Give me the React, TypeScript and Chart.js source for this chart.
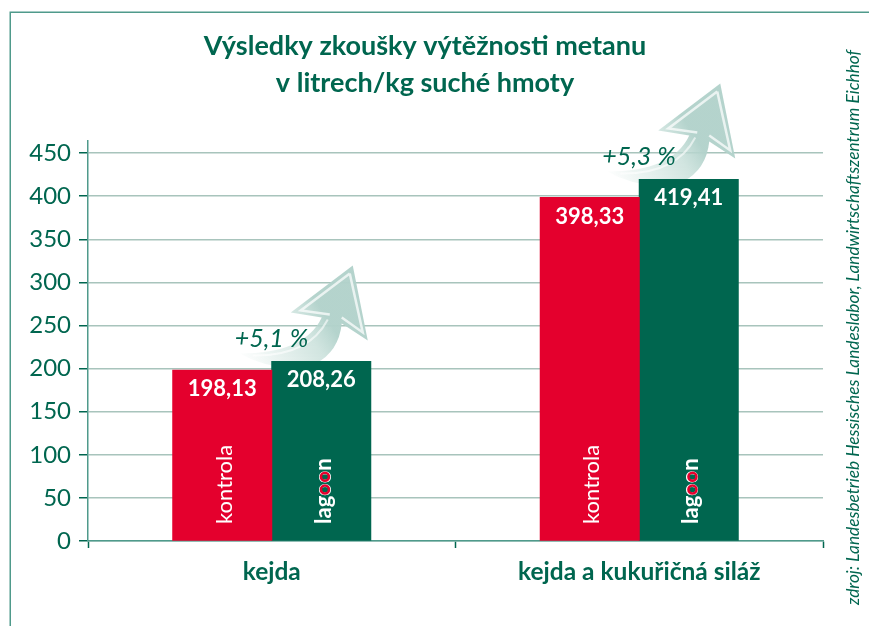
import React, { useEffect, useRef } from "react";
import { Chart, registerables } from "chart.js";

Chart.register(...registerables);

const categories = ["kejda", "kejda a kukuřičná siláž"];
const kontrola = [198.13, 398.33];
const lagoon = [208.26, 419.41];
const gains = ["+5,1 %", "+5,3 %"];
const yTicks = [0, 50, 100, 150, 200, 250, 300, 350, 400, 450];
const titleLines = ["Výsledky zkoušky výtěžnosti metanu", "v litrech/kg suché hmoty"];
const source = "zdroj: Landesbetrieb Hessisches Landeslabor, Landwirtschaftszentrum Eichhof";

const FONT = "Lato, Carlito, sans-serif";
const GREEN = "#00664f";
const RED = "#e4002d";
const FRAME = "#4f9a8b";

function fmt(v: number) {
  return v.toFixed(2).replace(".", ",");
}

function arrowPath(ctx: CanvasRenderingContext2D, x: number, y: number) {
  ctx.beginPath();
  ctx.moveTo(x - 18, y - 96);
  ctx.lineTo(x - 80, y - 49);
  ctx.lineTo(x - 49, y - 44);
  ctx.quadraticCurveTo(x - 66, y - 8, x - 131, y - 8);
  ctx.quadraticCurveTo(x - 96, y + 12, x - 55, y + 2);
  ctx.quadraticCurveTo(x - 32, y - 10, x - 29, y - 38);
  ctx.lineTo(x - 3, y - 21);
  ctx.closePath();
}

function drawArrow(ctx: CanvasRenderingContext2D, x: number, y: number) {
  ctx.save();
  const g = ctx.createLinearGradient(x - 125, y + 6, x - 45, y - 45);
  g.addColorStop(0, "rgba(190,218,211,0)");
  g.addColorStop(0.35, "rgba(190,218,211,0.35)");
  g.addColorStop(0.75, "rgba(190,218,211,0.7)");
  g.addColorStop(1, "rgba(178,210,203,0.97)");
  arrowPath(ctx, x, y);
  ctx.fillStyle = g;
  ctx.fill();
  ctx.beginPath();
  ctx.moveTo(x - 21, y - 88);
  ctx.lineTo(x - 70, y - 51);
  ctx.lineTo(x - 41, y - 47);
  ctx.moveTo(x - 21, y - 88);
  ctx.lineTo(x - 8, y - 29);
  ctx.lineTo(x - 29, y - 44);
  ctx.strokeStyle = "rgba(255,255,255,0.72)";
  ctx.lineWidth = 2.5;
  ctx.stroke();
  ctx.beginPath();
  ctx.moveTo(x - 43, y - 42);
  ctx.quadraticCurveTo(x - 62, y - 5, x - 118, y - 6);
  ctx.strokeStyle = "rgba(255,255,255,0.6)";
  ctx.lineWidth = 2;
  ctx.stroke();
  ctx.restore();
}

function rotatedText(
  ctx: CanvasRenderingContext2D,
  text: string,
  x: number,
  y: number,
  font: string,
  color: string,
) {
  ctx.save();
  ctx.translate(x, y);
  ctx.rotate(-Math.PI / 2);
  ctx.font = font;
  ctx.fillStyle = color;
  ctx.textAlign = "left";
  ctx.textBaseline = "alphabetic";
  ctx.fillText(text, 0, 0);
  ctx.restore();
}

function drawLagoon(ctx: CanvasRenderingContext2D, x: number, y: number) {
  const font = `bold 22px ${FONT}`;
  ctx.save();
  ctx.font = font;
  rotatedText(ctx, "lagoon", x, y, font, "#ffffff");
  ctx.font = font;
  const start = ctx.measureText("lag").width;
  const ow = ctx.measureText("o").width;
  ctx.strokeStyle = RED;
  ctx.lineWidth = 2.6;
  for (let i = 0; i < 2; i++) {
    ctx.beginPath();
    ctx.arc(x - 5.8, y - start - ow * (i + 0.5), 4, 0, Math.PI * 2);
    ctx.stroke();
  }
  ctx.restore();
}

const framePlugin = {
  id: "frame",
  beforeDraw(chart: any) {
    const { ctx, width, height } = chart;
    ctx.save();
    ctx.strokeStyle = FRAME;
    ctx.lineWidth = 1.5;
    ctx.beginPath();
    ctx.moveTo(10.25, height);
    ctx.lineTo(10.25, 12.25);
    ctx.lineTo(width, 12.25);
    ctx.stroke();
    ctx.restore();
  },
  afterDraw(chart: any) {
    const { ctx } = chart;
    rotatedText(ctx, source, 859, 605, `italic 17.3px ${FONT}`, GREEN);
  },
};

const arrowPlugin = {
  id: "arrows",
  beforeDatasetsDraw(chart: any) {
    const meta = chart.getDatasetMeta(1);
    meta.data.forEach((bar: any) => {
      drawArrow(chart.ctx, bar.x + bar.width / 2, bar.y);
    });
  },
};

const labelPlugin = {
  id: "labels",
  afterDatasetsDraw(chart: any) {
    const { ctx } = chart;
    const bottom = chart.scales.y.getPixelForValue(0);
    chart.data.datasets.forEach((ds: any, di: number) => {
      chart.getDatasetMeta(di).data.forEach((bar: any, i: number) => {
        ctx.save();
        ctx.font = `bold 22px ${FONT}`;
        ctx.fillStyle = "#ffffff";
        ctx.textAlign = "center";
        ctx.textBaseline = "alphabetic";
        ctx.fillText(fmt(ds.data[i]), bar.x, bar.y + 26);
        ctx.restore();
        if (di === 0) {
          rotatedText(ctx, ds.label, bar.x + 9.5, bottom - 17, `22px ${FONT}`, "#ffffff");
        } else {
          drawLagoon(ctx, bar.x + 9.5, bottom - 17);
          ctx.save();
          ctx.font = `italic 25px ${FONT}`;
          ctx.fillStyle = GREEN;
          ctx.textAlign = "left";
          ctx.textBaseline = "alphabetic";
          ctx.fillText(gains[i], bar.x + bar.width / 2 - 136, bar.y - 14);
          ctx.restore();
        }
      });
    });
  },
};

export default function App() {
  const ref = useRef<HTMLCanvasElement>(null);
  useEffect(() => {
    if (!ref.current) return;
    const chart = new Chart(ref.current, {
      type: "bar",
      data: {
        labels: categories,
        datasets: [
          { label: "kontrola", data: kontrola, backgroundColor: RED, inflateAmount: 0.5 },
          { label: "lagoon", data: lagoon, backgroundColor: GREEN, inflateAmount: 0.5 },
        ],
      },
      options: {
        animation: false,
        responsive: false,
        layout: { padding: { left: 27, right: 46, top: 0, bottom: 0 } },
        datasets: { bar: { categoryPercentage: 0.5388, barPercentage: 1 } },
        plugins: {
          legend: { display: false },
          tooltip: { enabled: false },
          title: {
            display: true,
            text: titleLines,
            color: GREEN,
            font: { family: FONT, size: 27, weight: "bold", lineHeight: 1.37 },
            padding: { top: 28, bottom: 39 },
            fullSize: true,
          },
        },
        scales: {
          x: {
            grid: {
              drawOnChartArea: false,
              drawTicks: true,
              tickLength: 7,
              tickColor: GREEN,
              tickWidth: 1.5,
            },
            border: { color: FRAME, width: 1.5 },
            ticks: {
              color: GREEN,
              padding: 9,
              maxRotation: 0,
              font: { family: FONT, size: 24.5, weight: "bold" },
            },
            afterFit(scale: any) {
              scale.height = 85;
            },
          },
          y: {
            min: 0,
            max: 464,
            afterBuildTicks(scale: any) {
              scale.ticks = yTicks.map((value) => ({ value }));
            },
            grid: {
              color: "#a8c4bc",
              lineWidth: 1.5,
              tickColor: GREEN,
              tickLength: 9,
              tickWidth: 1.5,
            },
            border: { color: FRAME, width: 1.5 },
            ticks: {
              color: GREEN,
              padding: 8,
              font: { family: FONT, size: 24 },
            },
            afterFit(scale: any) {
              scale.width = 61;
            },
          },
        },
      },
      plugins: [framePlugin, arrowPlugin, labelPlugin],
    } as any);
    return () => chart.destroy();
  }, []);
  return (
    <canvas
      ref={ref}
      width={869}
      height={626}
      style={{ position: "absolute", left: 0, top: 0, width: 869, height: 626, display: "block" }}
    />
  );
}
